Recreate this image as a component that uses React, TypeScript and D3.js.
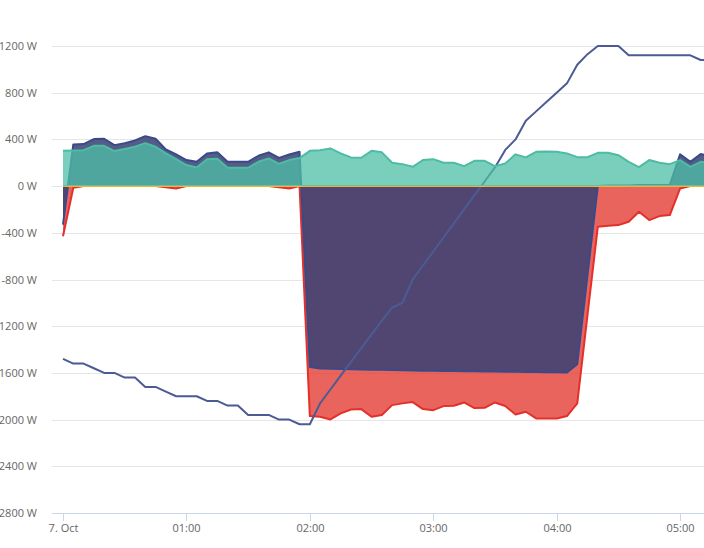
import React from "react";
import * as d3 from "d3";

// 5-minute samples starting 7 Oct 00:00
const startTime = new Date(2023, 9, 7, 0, 0);
const stepMinutes = 5;

const teal = [
  302, 305, 308, 345, 345, 300, 318, 337, 368, 337,
  280, 231, 180, 160, 229, 234, 157, 157, 157, 208,
  237, 191, 223, 240, 302, 308, 323, 280, 246, 243,
  302, 289, 200, 188, 165, 223, 231, 200, 200, 171,
  217, 217, 171, 194, 272, 246, 294, 297, 294, 280,
  248, 248, 285, 285, 265, 208, 163, 223, 200, 188,
  223, 165, 208, 200,
];

const navy = [
  -330, 357, 360, 403, 405, 351, 368, 391, 428, 405,
  314, 271, 223, 208, 280, 289, 208, 208, 208, 260,
  289, 242, 270, 294, -1550, -1562, -1564, -1566, -1568, -1570,
  -1572, -1574, -1576, -1578, -1580, -1582, -1582, -1584, -1584, -1586,
  -1586, -1588, -1588, -1590, -1590, -1592, -1592, -1594, -1594, -1596,
  -1525, -760, 0, 5, 5, 5, 10, 10, 10, 10,
  272, 208, 274, 260,
];

const red = [
  -430, -15, 0, 0, 0, 0, 0, 0, 0, 0,
  -10, -20, 0, 0, 0, 0, 0, 0, 0, 0,
  0, -10, -20, 0, -1970, -1976, -1999, -1947, -1913, -1910,
  -1976, -1961, -1876, -1861, -1850, -1910, -1919, -1884, -1882, -1853,
  -1901, -1899, -1853, -1884, -1956, -1933, -1990, -1990, -1990, -1970,
  -1861, -1100, -348, -340, -334, -306, -220, -291, -257, -248,
  -20, 0, 0, 0,
];

const orange = [
  0, 0, 0, 0, 0, 0, 0, 0, 0, 0,
  0, 0, 0, 0, 0, 0, 0, 0, 0, 0,
  0, 0, 0, 0, 0, 0, 0, 0, 0, 0,
  0, 0, 0, 0, 0, 0, 0, 0, 0, 0,
  0, 0, 0, 0, 0, 0, 0, 0, 0, 0,
  0, 0, 0, 0, 0, 0, 0, 0, 0, 0,
  0, 0, 0, 0,
];

const lineSeries = [
  -1480, -1520, -1520, -1560, -1600, -1600, -1640, -1640, -1720, -1720,
  -1760, -1800, -1800, -1800, -1840, -1840, -1880, -1880, -1960, -1960,
  -1960, -2000, -2000, -2040, -2040, -1860, -1742, -1624, -1506, -1388,
  -1270, -1152, -1040, -1000, -800, -680, -560, -440, -320, -200,
  -80, 40, 160, 310, 400, 560, 640, 720, 800, 880,
  1040, 1130, 1200, 1200, 1200, 1120, 1120, 1120, 1120, 1120,
  1120, 1120, 1080, 1080,
];

const yTicks = [1200, 800, 400, 0, -400, -800, -1200, -1600, -2000, -2400, -2800];
const xTickHours = [0, 1, 2, 3, 4, 5];
const xTickLabels = ["7. Oct", "01:00", "02:00", "03:00", "04:00", "05:00"];

const W = 704;
const H = 548;
const plotLeft = 52;
const plotRight = 704;
const plotBottom = 513;

const font = '"Open Sans", sans-serif';

export default function App() {
  const times = teal.map((_, i) => d3.timeMinute.offset(startTime, i * stepMinutes));

  const x = d3.scaleTime()
    .domain([startTime, d3.timeHour.offset(startTime, 5)])
    .range([63, 680.1]);
  const y = d3.scaleLinear().domain([-2800, 1200]).range([513, 46]);

  const area = d3.area<number>()
    .x((_, i) => x(times[i]))
    .y0(y(0))
    .y1((d) => y(d));
  const line = d3.line<number>()
    .x((_, i) => x(times[i]))
    .y((d) => y(d));

  return (
    <svg
      width={W}
      height={H}
      style={{ position: "absolute", left: 0, top: 0, background: "#fff" }}
    >
      <defs>
        <clipPath id="plot">
          <rect x={plotLeft} y={0} width={plotRight - plotLeft} height={plotBottom} />
        </clipPath>
      </defs>

      {/* grid */}
      {yTicks.map((t) => (
        <line key={t} x1={plotLeft} x2={plotRight} y1={Math.round(y(t)) + 0.5} y2={Math.round(y(t)) + 0.5}
          stroke="#e6e6e6" strokeWidth={1} />
      ))}

      {/* y labels */}
      {yTicks.map((t) => (
        <text key={t} x={37} y={y(t) + 4} textAnchor="end" fontFamily={font} fontSize={11} fill="#666666">
          {`${t} W`}
        </text>
      ))}

      <g clipPath="url(#plot)">
        {/* red */}
        <path d={area(red) || ""} fill="#e4332b" fillOpacity={0.76} stroke="none" />
        <path d={line(red) || ""} fill="none" stroke="#e4302a" strokeWidth={2} strokeLinejoin="round" />
        {/* navy */}
        <path d={area(navy) || ""} fill="#384174" fillOpacity={0.86} stroke="none" />
        <path d={line(navy) || ""} fill="none" stroke="#3a4a88" strokeWidth={2} strokeLinejoin="round" />
        {/* blue line */}
        <path d={line(lineSeries) || ""} fill="none" stroke="#4b5b93" strokeWidth={2} strokeLinejoin="round" />
        {/* orange */}
        <path d={line(orange) || ""} fill="none" stroke="#f0b23e" strokeWidth={2} />
        {/* teal */}
        <path d={area(teal) || ""} fill="#4dbfa5" fillOpacity={0.75} stroke="none" />
        <path d={line(teal) || ""} fill="none" stroke="#4cbca3" strokeWidth={2} strokeLinejoin="round" />
      </g>

      {/* x axis */}
      <line x1={plotLeft} x2={plotRight} y1={plotBottom + 0.5} y2={plotBottom + 0.5} stroke="#ccd6eb" strokeWidth={1} />
      {xTickHours.map((h, k) => {
        const px = Math.round(x(d3.timeHour.offset(startTime, h))) + 0.5;
        return (
          <g key={h}>
            <line x1={px} x2={px} y1={plotBottom} y2={plotBottom + 8} stroke="#ccd6eb" strokeWidth={1} />
            <text x={px} y={531.5} textAnchor="middle" fontFamily={font} fontSize={11} fill="#666666">
              {xTickLabels[k]}
            </text>
          </g>
        );
      })}
    </svg>
  );
}
